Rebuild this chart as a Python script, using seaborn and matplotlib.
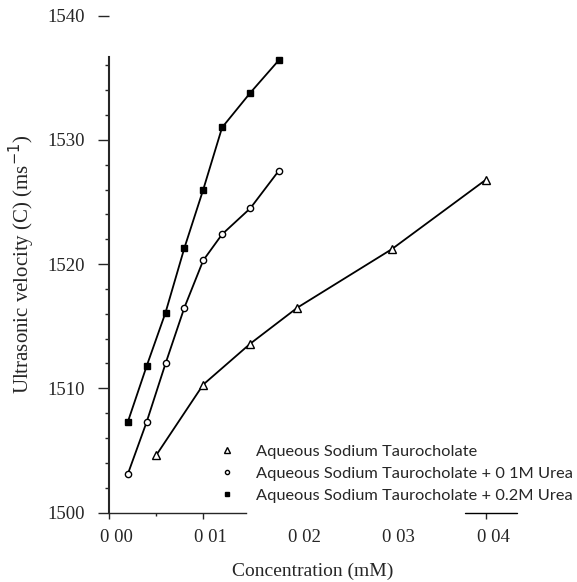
import numpy as np
import pandas as pd
import matplotlib
matplotlib.use("Agg")
import matplotlib.pyplot as plt
import matplotlib.transforms as mtransforms
from matplotlib.lines import Line2D
from matplotlib.ticker import FixedLocator
import seaborn as sns

# values
conc_nat = [0.005, 0.010, 0.015, 0.020, 0.030, 0.040]
vel_nat = [1504.6, 1510.3, 1513.6, 1516.5, 1521.2, 1526.8]

conc_urea = [0.002, 0.004, 0.006, 0.008, 0.010, 0.012, 0.015, 0.018]
vel_urea01 = [1503.1, 1507.3, 1512.0, 1516.5, 1520.3, 1522.4, 1524.5, 1527.5]
vel_urea02 = [1507.3, 1511.8, 1516.1, 1521.3, 1526.0, 1531.0, 1533.8, 1536.4]

labels = ["Aqueous Sodium Taurocholate",
          "Aqueous Sodium Taurocholate + 0 1M Urea",
          "Aqueous Sodium Taurocholate + 0.2M Urea"]
xtick_vals = [0.00, 0.01, 0.02, 0.03, 0.04]
xtick_text = ["0 00", "0 01", "0 02", "0 03", "0 04"]
ytick_vals = [1500, 1510, 1520, 1530, 1540]
yminor_vals = [v for v in range(1502, 1537, 2) if v % 10]

sns.set_style("ticks")
plt.rcParams["font.family"] = ["Liberation Serif", "DejaVu Serif"]

fig = plt.figure(figsize=(5.77, 5.82), dpi=100)
ax = fig.add_axes([0.1889, 0.1194, 0.735, 0.8536])

series = [
    (conc_nat, vel_nat, "^", "white", 5.5),
    (conc_urea, vel_urea01, "o", "white", 4.5),
    (conc_urea, vel_urea02, "s", "black", 4.5),
]
for (xs, ys, mk, fc, ms), lab in zip(series, labels):
    df = pd.DataFrame({"c": xs, "v": ys})
    sns.lineplot(data=df, x="c", y="v", ax=ax, color="black", lw=1.3,
                 marker=mk, markersize=ms, markerfacecolor=fc,
                 markeredgecolor="black", markeredgewidth=1.0,
                 legend=False)

ax.set_xlim(0, 0.045)
ax.set_ylim(1500, 1540)

# broken axes like the scanned original
sns.despine(ax=ax)
ax.spines["left"].set_bounds(1500, 1536.7)
ax.spines["bottom"].set_bounds(0, 0.0145)
ax.spines["left"].set_linewidth(1.5)
ax.spines["bottom"].set_linewidth(1.0)
ax.axhline(1500, xmin=0.0378 / 0.045, xmax=0.0433 / 0.045, color="black",
           lw=1.0, clip_on=False)

ax.set_xticks(xtick_vals)
ax.set_xticklabels(xtick_text, fontsize=13.5)
ax.set_yticks(ytick_vals)
ax.set_yticklabels([str(v) for v in ytick_vals], fontsize=13.5)
ax.yaxis.set_minor_locator(FixedLocator(yminor_vals))
ax.xaxis.set_minor_locator(FixedLocator([0.005]))
ax.tick_params(axis="y", which="major", length=8, width=1.0, pad=9)
ax.tick_params(axis="y", which="minor", length=3, width=1.0)
ax.tick_params(axis="x", which="major", length=4, width=1.0, pad=8)
ax.tick_params(axis="x", which="minor", length=2, width=1.0)

for i, t in enumerate(ax.xaxis.get_major_ticks()):
    if i in (2, 3):
        t.tick1line.set_visible(False)

offset = mtransforms.ScaledTranslation(7 / 100, 0, fig.dpi_scale_trans)
for lbl in ax.get_xticklabels():
    lbl.set_transform(lbl.get_transform() + offset)

ax.set_xlabel("Concentration (mM)", fontsize=14)
ax.set_ylabel("Ultrasonic velocity (C) (ms$^{-1}$)", fontsize=15)
ax.xaxis.set_label_coords(0.48, -0.10)
ax.yaxis.set_label_coords(-0.17, 0.5)

handles = [Line2D([], [], ls="none", marker=m, color="black",
                  markerfacecolor=fc, markersize=ms - 1.5)
           for (_, _, m, fc, ms) in series]
leg = ax.legend(handles, labels, loc="upper left",
                bbox_to_anchor=(0.365, 0.25), bbox_transform=fig.transFigure,
                frameon=False, borderpad=0, handlelength=1.0,
                handletextpad=1.3, labelspacing=0.45,
                prop={"family": "Lato", "size": 11.8})

fig.savefig("out.png", dpi=100)
